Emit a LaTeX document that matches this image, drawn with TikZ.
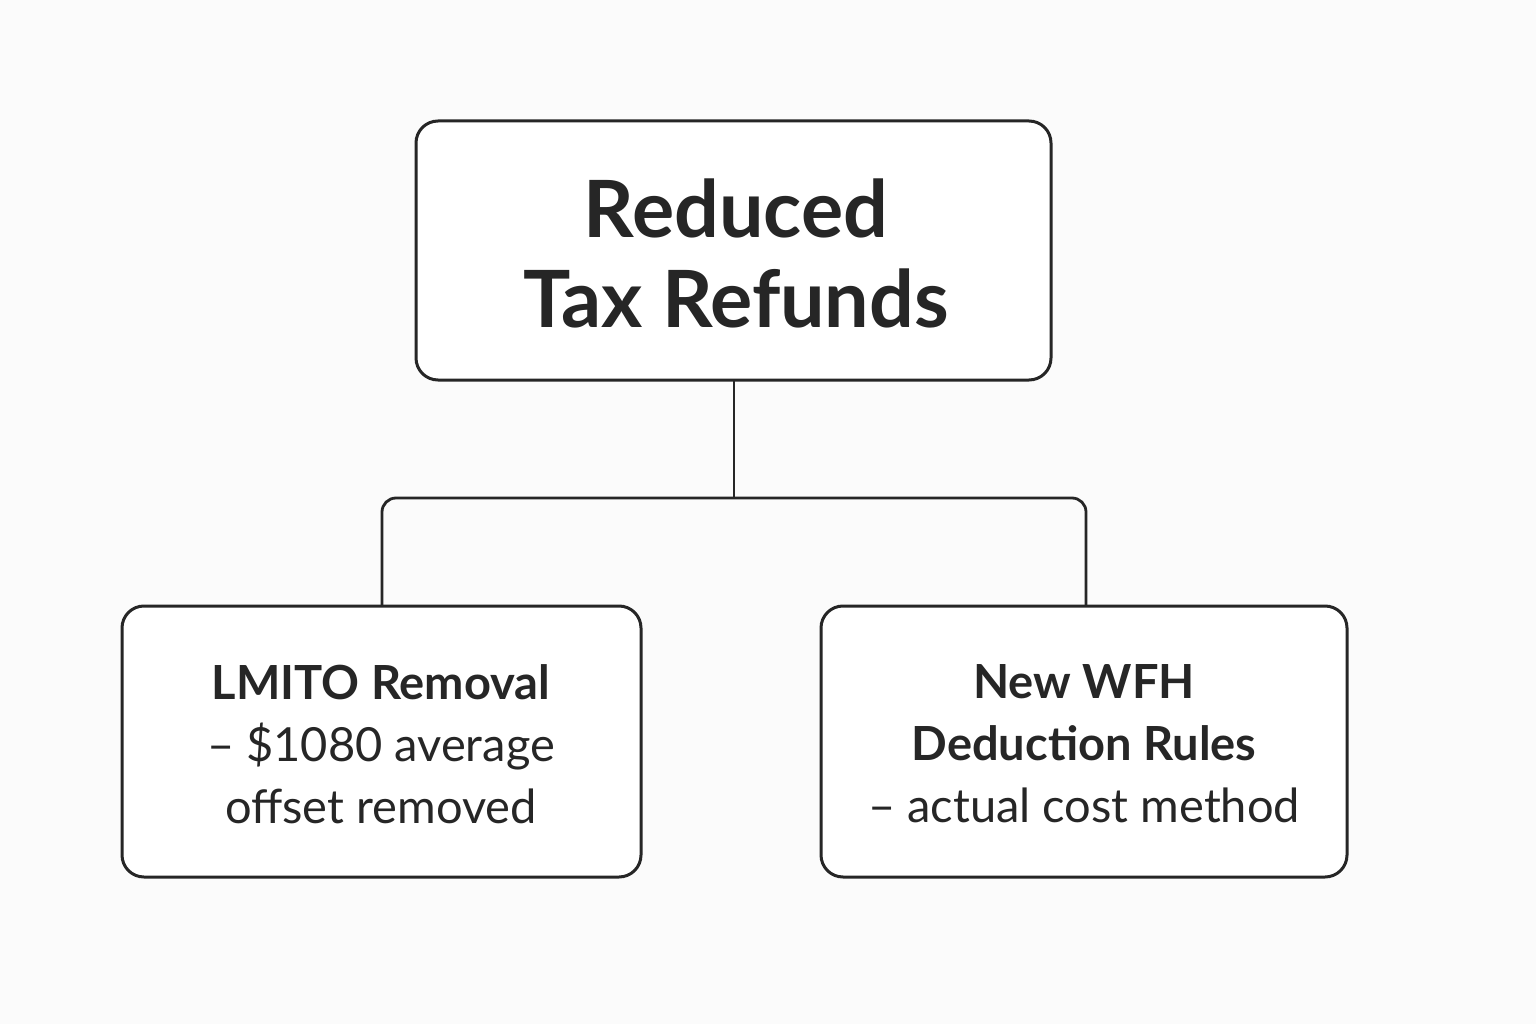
\documentclass[tikz,border=0pt]{standalone}
\usepackage{fontspec}
\setmainfont{Lato}
\begin{document}
\begin{tikzpicture}[x=1pt,y=-1pt,
  box/.style={draw=black!85,line width=3pt,rounded corners=22pt,fill=white},
  conn/.style={draw=black!85,line width=2.8pt,rounded corners=14pt},
  txt/.style={align=center,text=black!85}]
\useasboundingbox[fill=black!1.5] (0,0) rectangle (1536,1024);
\draw[box] (416,121) rectangle (1051,380);
\draw[box] (122,606) rectangle (641,877);
\draw[box] (821,606) rectangle (1347,877);
\coordinate (tb) at (734,380);
\coordinate (lt) at (382,606);
\coordinate (rt) at (1086,606);
\draw[conn] (tb) -- (734,498);
\draw[conn] (lt) -- (382,498) -- (1086,498) -- (rt);
\node[txt,font=\fontsize{79}{90}\selectfont\bfseries] (top) at (736,253) {Reduced\\Tax Refunds};
\node[txt,font=\fontsize{47}{62}\selectfont] (left) at (381,744) {\textbf{LMITO Removal}\\– \$1080 average\\offset removed};
\node[txt,font=\fontsize{47}{62}\selectfont] (right) at (1084,744) {\textbf{New WFH}\\\textbf{Deduction Rules}\\– actual cost method};
\end{tikzpicture}
\end{document}
